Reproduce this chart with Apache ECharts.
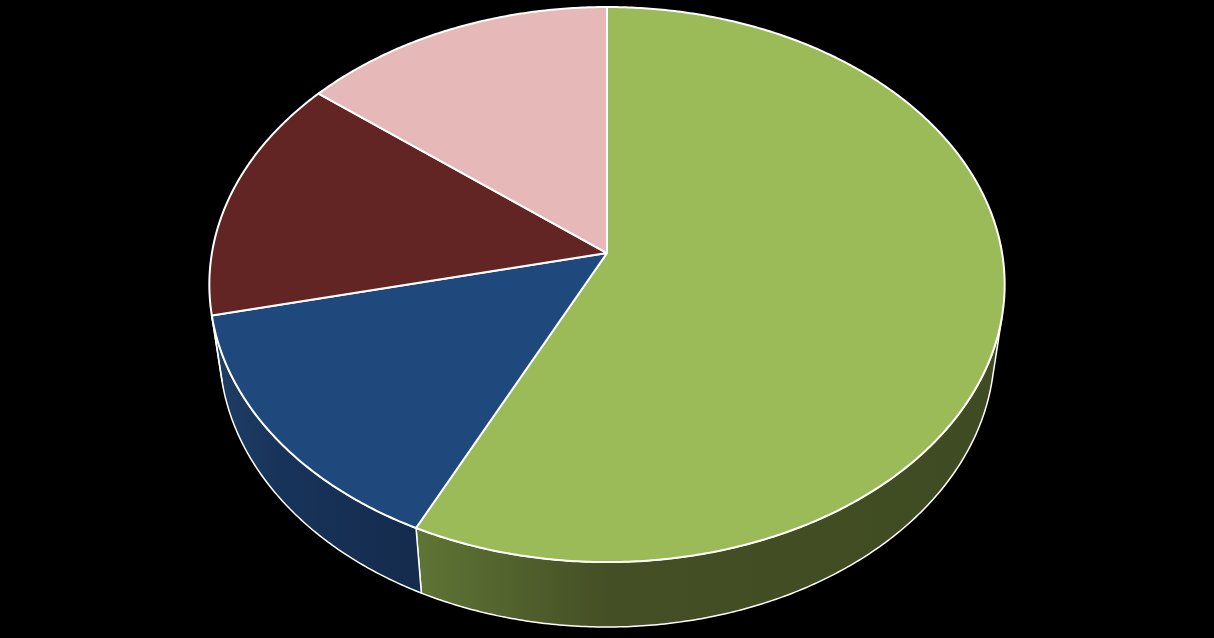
<!DOCTYPE html>
<html>
<head>
<meta charset="utf-8">
<script src="https://cdn.jsdelivr.net/npm/echarts@6/dist/echarts.min.js"></script>
<style>
  html, body { margin: 0; padding: 0; background: #000; }
  #chart { width: 1214px; height: 638px; }
</style>
</head>
<body>
<div id="chart"></div>
<script>
// 数据
const categories = ['Slice 1', 'Slice 2', 'Slice 3', 'Slice 4']
const values = [4, 1, 1, 1]
const topColors = ['#9bbb59', '#1f497d', '#632523', '#e6b9b8']
// 侧面渐变 (左 -> 中 -> 右)
const sideColors = [
  ['#5f7535', '#444f25', '#3f4b22'],
  ['#1f3f66', '#18335a', '#142b4c'],
  ['#4a1b1a', '#3f1716', '#3a1514'],
  ['#ad8a8a', '#9a7a7a', '#8a6e6e']
]

// 3D 投影参数
const tilt = 43.9 * Math.PI / 180
const sinA = Math.sin(tilt)
const cosA = Math.cos(tilt)
const dist = 6.34      // 相机距离 (半径 = 1)
const thick = 0.236    // 饼的厚度

const total = values.reduce((s, v) => s + v, 0)
const starts = []
let acc = 0
values.forEach(v => { starts.push(acc / total * Math.PI * 2); acc += v })

// 外侧面可见范围
const wallMin = Math.acos(-1 / (dist * cosA))
const wallMax = Math.PI * 2 - wallMin

// 圆心在 (0, 0, 0)，phi 从正上方顺时针
function makeProj (api) {
  const h = api.getHeight()
  const cx = api.getWidth() * 0.5
  const cy = h * 0.3966
  const f = h * 3.926
  return function (phi, z, r = 1) {
    const X = r * Math.sin(phi)
    const Z = r * Math.cos(phi)
    const yc = Z * sinA + z * cosA
    const depth = dist + Z * cosA - z * sinA
    return [cx + f * X / depth, cy - f * yc / depth]
  }
}

function rim (proj, a, b, z) {
  const pts = []
  const n = Math.max(2, Math.ceil((b - a) / (Math.PI / 360)))
  for (let i = 0; i <= n; i++) pts.push(proj(a + (b - a) * i / n, z))
  return pts
}

function renderWall (params, api) {
  const i = params.dataIndex
  const a = Math.max(starts[i], wallMin)
  const b = Math.min(starts[i] + values[i] / total * Math.PI * 2, wallMax)
  if (b <= a) return null
  const proj = makeProj(api)
  const top = rim(proj, a, b, 0)
  const bottom = rim(proj, a, b, -thick).reverse()
  const c = sideColors[i]
  return {
    type: 'polygon',
    shape: { points: top.concat(bottom) },
    style: {
      fill: new echarts.graphic.LinearGradient(0, 0, 1, 0, [
        { offset: 0, color: c[0] },
        { offset: 0.33, color: c[1] },
        { offset: 1, color: c[2] }
      ]),
      stroke: '#fff',
      lineWidth: 1.5,
      lineJoin: 'round'
    }
  }
}

function renderTop (params, api) {
  const i = params.dataIndex
  const a = starts[i]
  const b = a + values[i] / total * Math.PI * 2
  const proj = makeProj(api)
  // 圆心 + 外圈
  const points = [proj(0, 0, 0)].concat(rim(proj, a, b, 0))
  return {
    type: 'polygon',
    shape: { points },
    style: {
      fill: topColors[i],
      stroke: '#fff',
      lineWidth: 2,
      lineJoin: 'round'
    }
  }
}

const chart = echarts.init(document.getElementById('chart'))
const seriesData = values.map((v, i) => ({ name: categories[i], value: [i, v] }))

chart.setOption({
  backgroundColor: '#000',
  animation: false,
  series: [
    { type: 'custom', coordinateSystem: 'none', z: 1, renderItem: renderWall, data: seriesData },
    { type: 'custom', coordinateSystem: 'none', z: 2, renderItem: renderTop, data: seriesData }
  ]
})

window.addEventListener('resize', () => chart && chart.resize())
</script>
</body>
</html>
